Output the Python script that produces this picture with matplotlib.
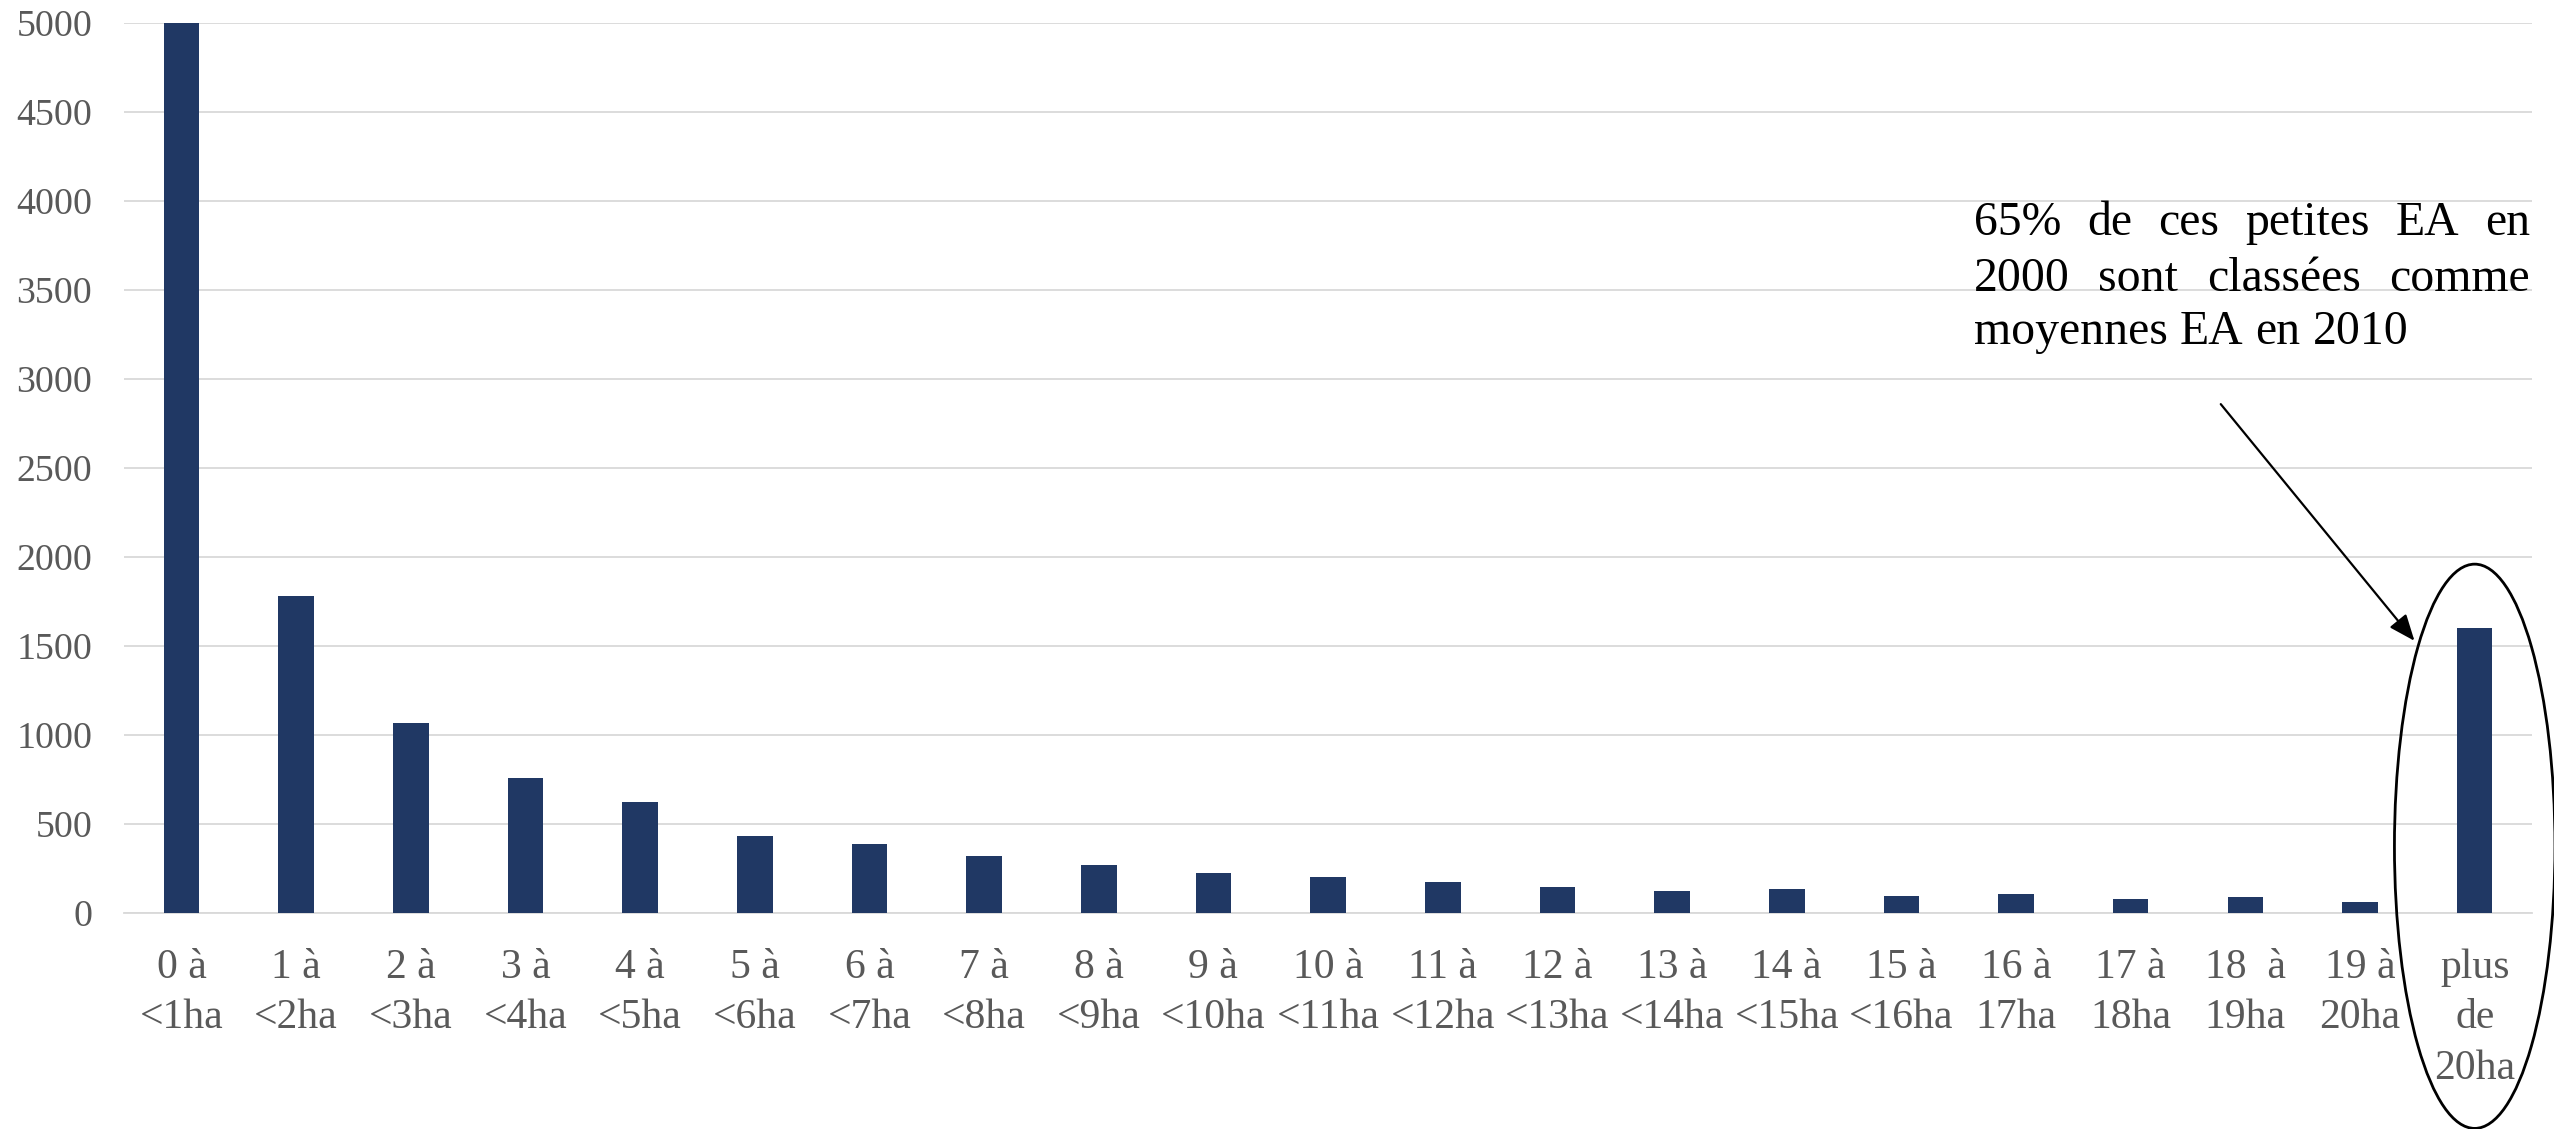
import matplotlib.pyplot as plt
from matplotlib.patches import Ellipse

plt.rcParams["font.family"] = ["Liberation Serif", "DejaVu Serif"]

labels = ["0 à\n<1ha", "1 à\n<2ha", "2 à\n<3ha", "3 à\n<4ha", "4 à\n<5ha",
          "5 à\n<6ha", "6 à\n<7ha", "7 à\n<8ha", "8 à\n<9ha", "9 à\n<10ha",
          "10 à\n<11ha", "11 à\n<12ha", "12 à\n<13ha", "13 à\n<14ha",
          "14 à\n<15ha", "15 à\n<16ha", "16 à\n17ha", "17 à\n18ha",
          "18  à\n19ha", "19 à\n20ha", "plus\nde\n20ha"]
counts = [5000, 1780, 1070, 760, 625, 430, 385, 320, 272, 227, 204,
          176, 148, 122, 133, 94, 105, 76, 88, 64, 1600]
y_ticks = list(range(0, 5001, 500))

note_lines = ["65% de ces petites EA en",
              "2000 sont classées comme",
              "moyennes EA en 2010"]

fig = plt.figure(figsize=(25.54, 11.29), dpi=100)
ax = fig.add_axes([0.0486, 0.1913, 0.9428, 0.7883])

x = list(range(len(counts)))
ax.bar(x, counts, width=0.31, color="#203864", zorder=3)

ax.set_xlim(-0.5, len(counts) - 0.5)
ax.set_ylim(0, 5000)
ax.set_yticks(y_ticks)
ax.set_xticks(x)
ax.set_xticklabels(labels, fontsize=30, color="#595959", linespacing=1.40)
ax.tick_params(axis="y", length=0, pad=23, labelsize=27.3, labelcolor="#595959")
ax.tick_params(axis="x", length=0, pad=25.5)
ax.grid(axis="y", color="#d9d9d9", linewidth=1.3, zorder=0)
for side in ["top", "right", "left"]:
    ax.spines[side].set_visible(False)
ax.spines["bottom"].set_color("#d9d9d9")
ax.spines["bottom"].set_linewidth(1.3)

# ellipse round the last bar and arrow from the note
ax.add_patch(Ellipse((20, 375), 1.40, 3170, fill=False, edgecolor="black",
                     linewidth=2, clip_on=False, zorder=4))
ax.annotate("", xy=(19.49, 1517), xytext=(17.77, 2871),
            arrowprops=dict(arrowstyle="-|>,head_length=1.6,head_width=0.65",
                            color="black", linewidth=1.6),
            annotation_clip=False)

# justified note text (Word style: last line left aligned)
note_size = 34.4
fig.canvas.draw()
renderer = fig.canvas.get_renderer()
left_px = 1974
right_px = 2530
baselines = [235, 291, 344]
W, H = fig.bbox.width, fig.bbox.height

probe1 = fig.text(0, 0, "a a", fontsize=note_size)
probe2 = fig.text(0, 0, "aa", fontsize=note_size)
space_w = probe1.get_window_extent(renderer).width - probe2.get_window_extent(renderer).width
probe1.remove()
probe2.remove()

for i, line in enumerate(note_lines):
    words = line.split(" ")
    y_fig = (H - baselines[i]) / H
    texts = [fig.text(0, y_fig, w, fontsize=note_size, color="black", va="baseline")
             for w in words]
    widths = [t.get_window_extent(renderer).width for t in texts]
    if i < len(note_lines) - 1:
        gap = (right_px - left_px - sum(widths)) / (len(words) - 1)
    else:
        gap = space_w
    pos = left_px
    for t, w in zip(texts, widths):
        t.set_x(pos / W)
        pos += w + gap

fig.savefig("out.png", dpi=100)
plt.close()
